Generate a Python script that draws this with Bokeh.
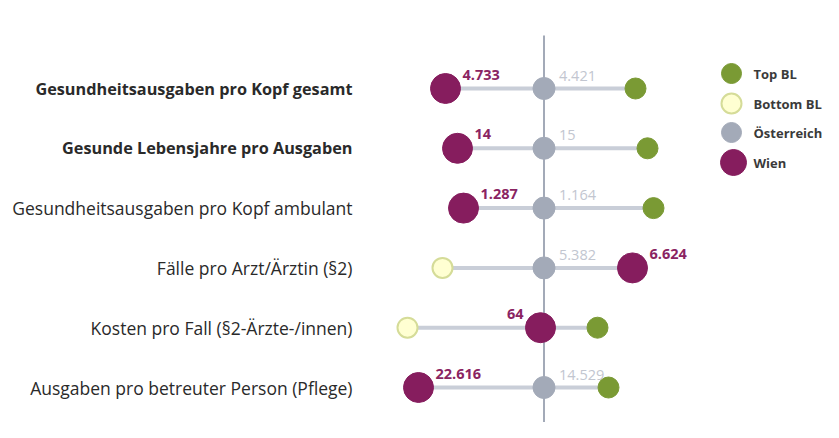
from bokeh.plotting import figure
from bokeh.models import Range1d, ColumnDataSource
from bokeh.core.properties import value
from bokeh.embed import file_html
from bokeh.resources import INLINE

# ---- data (relative position vs. Österreich = 0) ----
categories = [
    "Gesundheitsausgaben pro Kopf gesamt",
    "Gesunde Lebensjahre pro Ausgaben",
    "Gesundheitsausgaben pro Kopf ambulant",
    "Fälle pro Arzt/Ärztin (§2)",
    "Kosten pro Fall (§2-Ärzte-/innen)",
    "Ausgaben pro betreuter Person (Pflege)",
]
bold_rows = [True, True, False, False, False, False]
wien_pos = [-0.985, -0.865, -0.805, 0.885, -0.035, -1.255]
oest_pos = [0.0, 0.0, 0.0, 0.0, 0.0, 0.0]
top_pos = [0.915, 1.035, 1.095, None, 0.535, 0.645]
bottom_pos = [None, None, None, -1.015, -1.365, None]
wien_labels = ["4.733", "14", "1.287", "6.624", "64", "22.616"]
oest_labels = ["4.421", "15", "1.164", "5.382", "", "14.529"]
legend_labels = ["Top BL", "Bottom BL", "Österreich", "Wien"]

# ---- styles ----
C_TOP, C_BOT_FILL, C_BOT_LINE = "#7A9A34", "#FFFFD2", "#D5DC98"
C_OEST, C_WIEN = "#A3AAB8", "#861D5E"

W, H = 823, 422
PX_X = 100.0   # pixels per x unit
PX_Y = 59.8    # pixels per row
CX, ROW0 = 543.5, 88.0
rows = list(range(len(categories)))

p = figure(width=W, height=H, output_backend="svg", toolbar_location=None,
           x_range=Range1d(-CX / PX_X, (W - CX) / PX_X),
           y_range=Range1d(5 + (H - (ROW0 + 5 * PX_Y)) / PX_Y, -ROW0 / PX_Y),
           min_border=0, outline_line_color=None)
p.axis.visible = False
p.grid.visible = False

def ypx(py):
    return (py - ROW0) / PX_Y

# central axis line
p.segment(x0=[0], x1=[0], y0=[ypx(35)], y1=[ypx(H + 5)], line_color="#A3AAB8", line_width=2)

# horizontal connectors
x0s, x1s = [], []
for i in rows:
    vals = [v for v in (wien_pos[i], oest_pos[i], top_pos[i], bottom_pos[i]) if v is not None]
    x0s.append(min(vals)); x1s.append(max(vals))
p.segment(x0=x0s, x1=x1s, y0=rows, y1=rows, line_color="#C9CED8", line_width=4)

def pts(arr):
    xs = [v for v in arr if v is not None]
    ys = [i for i, v in enumerate(arr) if v is not None]
    return xs, ys

ox, oy = pts(oest_pos)
p.scatter(ox, oy, size=22, fill_color=C_OEST, line_color=C_OEST)
tx, ty = pts(top_pos)
p.scatter(tx, ty, size=21, fill_color=C_TOP, line_color=C_TOP)
bx, by = pts(bottom_pos)
p.scatter(bx, by, size=20, fill_color=C_BOT_FILL, line_color=C_BOT_LINE, line_width=2)
p.scatter(wien_pos, rows, size=30, fill_color=C_WIEN, line_color=C_WIEN)

# category labels
for i in rows:
    p.text(x=[(352 - CX) / PX_X], y=[i], text=[categories[i]], text_align="right",
           text_baseline="middle", text_font=value("Open Sans"),
           text_font_size="16.25px" if bold_rows[i] else "17.5px",
           text_font_style="bold" if bold_rows[i] else "normal", text_color="#2A2A2A")

# value labels
wl_src = ColumnDataSource(dict(
    x=wien_pos, y=rows, t=wien_labels,
    align=["right" if abs(v) < 0.1 else "left" for v in wien_pos],
    xo=[-17 if abs(v) < 0.1 else 17 for v in wien_pos],
))
p.text(x="x", y="y", text="t", source=wl_src, text_align="align", x_offset="xo", y_offset=-14,
       text_baseline="middle", text_font=value("Open Sans"), text_font_size="14.5px",
       text_font_style="bold", text_color="#8A2462")
p.text(x=oest_pos, y=rows, text=oest_labels, text_align="left", x_offset=15, y_offset=-13,
       text_baseline="middle", text_font=value("Open Sans"), text_font_size="14.5px",
       text_color="#C2C6D0")

# legend (drawn manually for large markers and tight spacing)
leg_y = [ypx(v) for v in (73, 103, 132, 162)]
leg_x = (731 - CX) / PX_X
p.scatter([leg_x] * 3, leg_y[:3], size=[20, 20, 20],
          fill_color=[C_TOP, C_BOT_FILL, C_OEST], line_color=[C_TOP, C_BOT_LINE, C_OEST],
          line_width=[1, 2, 1])
p.scatter([leg_x + 0.02], [leg_y[3]], size=26, fill_color=C_WIEN, line_color=C_WIEN)
p.text(x=[(753 - CX) / PX_X] * 4, y=leg_y, text=legend_labels, text_baseline="middle",
       text_font=value("Open Sans"), text_font_size="13px", text_font_style="bold",
       text_color="#3A3A3A")

open("out.html", "w").write(file_html(p, INLINE))
